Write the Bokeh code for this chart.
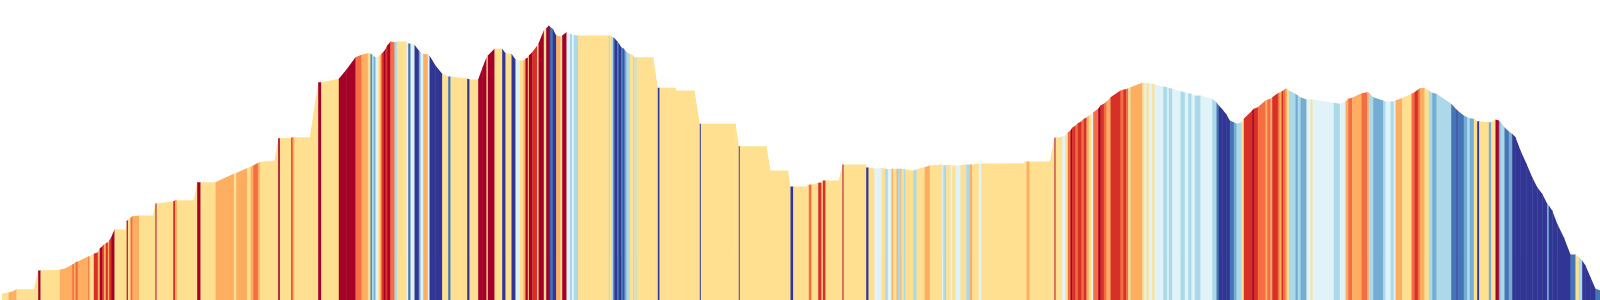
from bokeh.plotting import figure
from bokeh.embed import file_html
from bokeh.resources import INLINE
from bokeh.models import ColumnDataSource, Range1d

# Route profile: distance (km) and elevation (m) at each break point
dist_km = [
    # 0-20 km
    0.15, 0.8, 1.2, 1.6, 3.33, 3.77, 4.0, 5.93, 6.5, 7.17,
    7.33, 7.5, 7.73, 8.77, 8.9, 9.33, 9.73, 9.93, 10.17, 10.33,
    10.53, 10.73, 10.87, 11.07, 11.4, 12.5, 12.62, 12.73, 13.0, 13.2,
    13.87, 15.23, 15.5, 15.6, 17.27, 17.47, 17.67, 19.33, 19.67, 20.0,
    # 20-60 km
    21.5, 22.5, 23.33, 23.57, 24.67, 25.0, 25.27, 25.73, 25.93, 27.4,
    27.77, 27.93, 29.07, 29.2, 29.4, 30.93, 31.77, 32.07, 33.83, 34.6,
    35.5, 36.1, 36.73, 37.0, 37.13, 37.33, 37.5, 37.77, 37.93, 38.1,
    38.33, 38.5, 38.67, 38.93, 39.0, 39.4, 39.67, 40.6, 40.77, 41.0,
    41.4, 41.83, 42.0, 42.27, 42.73, 42.9, 43.5, 44.17, 44.33, 44.77,
    45.0, 46.67, 46.9, 47.77, 48.2, 48.6, 48.73, 49.4, 50.17, 50.5,
    51.1, 51.5, 51.93, 52.27, 52.5, 52.73, 52.83, 53.17, 53.67, 53.8,
    54.33, 54.57, 54.83, 55.0, 55.23, 55.57, 56.0, 56.17, 56.6, 57.0,
    57.1, 57.33, 57.75,
    # 60-80 km
    60.83, 60.93, 61.1, 61.27, 61.4, 61.67, 61.83, 62.07, 62.27, 62.4,
    62.6, 62.93, 63.27, 63.4, 63.53, 63.6, 65.27, 65.73, 65.9, 67.5,
    67.51, 69.4, 69.93, 70.03, 73.5, 73.83, 73.92, 76.6, 77.0, 78.73,
    79.0, 79.27,
    # 80-100 km
    80.67, 80.68, 80.83, 81.1, 81.77, 82.1, 82.23, 82.5, 83.83, 84.2,
    84.3, 86.55, 86.57, 86.8, 87.4, 88.1, 88.47, 88.73, 89.1, 89.27,
    89.6, 89.73, 90.0, 90.1, 90.33, 90.5, 91.27, 91.6, 92.0, 92.4,
    92.93, 94.17, 94.27, 94.57, 95.0, 95.17, 95.5, 96.0, 96.57, 96.93,
    97.17, 97.83, 98.07,
    # 100-120 km
    102.4, 102.41, 102.6, 102.9, 104.93, 105.4, 105.5, 106.17, 106.5, 106.73,
    107.0, 107.17, 107.5, 107.73, 108.1, 108.33, 108.6, 108.83, 109.05, 109.27,
    109.77, 110.0, 110.33, 110.6, 111.0, 112.0, 112.27, 112.57, 112.77, 113.0,
    114.17, 114.4, 114.6, 114.83, 115.17, 115.4, 116.27, 116.67, 116.83, 117.17,
    118.0, 118.43, 118.77, 119.1, 119.43,
    # 120-140 km
    120.0, 121.17, 121.6, 121.83, 122.2, 122.6, 122.93, 123.33, 123.6, 124.1,
    124.33, 125.17, 125.33, 125.73, 126.5, 126.67, 127.0, 127.17, 127.73, 127.9,
    128.1, 128.27, 128.5, 128.67, 128.83, 129.5, 129.73, 130.0, 130.6, 131.0,
    131.2, 133.33, 133.93, 134.5, 134.77, 135.17, 136.1, 136.67, 136.83, 137.27,
    138.27, 138.5, 139.0, 139.33, 139.5,
    # 140-160 km
    140.17, 141.1, 141.4, 141.73, 141.93, 142.4, 142.83, 143.17, 143.6, 145.07,
    145.6, 145.7, 146.33, 146.67, 146.93, 147.33, 147.67, 147.87, 148.83, 149.07,
    149.5, 149.83, 150.0, 150.4, 150.83, 151.17, 151.5, 152.0, 152.6, 153.17,
    153.67, 154.17, 154.67, 154.83, 155.17, 155.67, 156.33, 157.0, 157.5, 157.83,
    158.17, 158.5, 159.0, 159.5, 160.0,
]

elev_m = [
    # 0-20 km
    70, 80, 90, 113, 113, 300, 300, 307, 323, 360,
    367, 383, 390, 440, 443, 467, 483, 523, 540, 560,
    573, 583, 600, 633, 710, 710, 793, 807, 827, 843,
    850, 850, 970, 970, 993, 1003, 1003, 1003, 1183, 1183,
    # 20-60 km
    1183, 1230, 1267, 1275, 1325, 1335, 1350, 1375, 1385, 1400,
    1623, 1623, 1628, 1633, 1633, 1633, 2183, 2183, 2217, 2310,
    2433, 2457, 2473, 2470, 2460, 2443, 2433, 2440, 2450, 2467,
    2490, 2515, 2550, 2580, 2590, 2583, 2590, 2590, 2573, 2567,
    2557, 2500, 2483, 2467, 2460, 2450, 2350, 2267, 2260, 2240,
    2240, 2220, 2210, 2210, 2330, 2433, 2450, 2517, 2517, 2473,
    2467, 2410, 2400, 2400, 2417, 2430, 2450, 2483, 2550, 2570,
    2700, 2720, 2750, 2733, 2717, 2650, 2640, 2650, 2683, 2665,
    2660, 2655, 2650,
    # 60-80 km
    2650, 2650, 2643, 2633, 2623, 2593, 2573, 2533, 2523, 2507,
    2483, 2467, 2450, 2433, 2433, 2433, 2433, 2127, 2127, 2127,
    2100, 2100, 1767, 1767, 1767, 1543, 1543, 1543, 1300, 1300,
    1140, 1140,
    # 80-100 km
    1140, 1157, 1157, 1160, 1177, 1180, 1200, 1200, 1200, 1360,
    1360, 1360, 1330, 1330, 1320, 1325, 1320, 1313, 1317, 1317,
    1317, 1317, 1317, 1317, 1315, 1310, 1300, 1310, 1323, 1333,
    1350, 1360, 1350, 1355, 1355, 1350, 1350, 1355, 1360, 1360,
    1360, 1370, 1370,
    # 100-120 km
    1373, 1390, 1390, 1390, 1390, 1627, 1627, 1640, 1650, 1683,
    1700, 1727, 1750, 1773, 1793, 1817, 1830, 1850, 1860, 1883,
    1917, 1950, 1967, 1990, 2033, 2100, 2107, 2115, 2123, 2133,
    2177, 2177, 2177, 2170, 2170, 2160, 2140, 2133, 2127, 2117,
    2093, 2083, 2073, 2067, 2050,
    # 120-140 km
    2050, 2017, 1983, 1950, 1910, 1860, 1800, 1783, 1767, 1783,
    1817, 1900, 1917, 1933, 2000, 2007, 2017, 2033, 2073, 2080,
    2090, 2100, 2117, 2117, 2100, 2067, 2050, 2033, 2010, 2010,
    2010, 1977, 1967, 1993, 2017, 2027, 2073, 2083, 2080, 2033,
    2000, 1990, 1990, 1993, 2000,
    # 140-160 km
    2025, 2067, 2083, 2107, 2123, 2127, 2100, 2077, 2067, 1967,
    1910, 1900, 1850, 1833, 1823, 1817, 1793, 1793, 1783, 1783,
    1810, 1800, 1783, 1733, 1690, 1667, 1633, 1500, 1367, 1233,
    1133, 1067, 967, 950, 900, 767, 633, 460, 460, 433,
    400, 350, 233, 117, 100,
]

# Gradient class of each stretch between consecutive break points
# A steep climb ... Y flat-ish climb, P flat-ish descent ... D steep descent
grade_class = list(
    "YLLYYAYLLO" "LOLOYRLARL" "RLRAYYAYOL" "YYAYRLYYAY"
    "LLYLYLOLYY" "AYRLYYAYAA" "OLYUbMPYLR" "ARARObYPUP" "DMPLPDDYYU"
    "YDYAAYAYDY" "DPYLAYARYA" "YADUDLYAPM" "PbY"
    "bYbUDUDUDM" "bYbYbYYDYY" "YYDYYDYYYY" "DY"
    "YYOYRYRYYA" "YYDYPYbPLY" "LbLYbYbYYL" "YPbYPYPYbL" "YPY"
    "YYLYYAYPYO" "ARORORLYPO" "AROLROROYL" "YPYPYPbPbP" "bPbPb"
    "PbUDDDUMbY" "RAROLOLROL" "ROLYbMbMPY" "PbPLOLOLbM" "bPbPL"
    "YOROLYbMbU" "DUMbMYDYMY" "AMbUMDDDDD" "DDMDDDDUYb" "DDDU"
)

grade_colors = {
    "A": "#a50026", "R": "#d73027", "O": "#f46d43", "L": "#fdae61", "Y": "#fee090",
    "P": "#e0f3f8", "b": "#abd9e9", "M": "#74add1", "U": "#4575b4", "D": "#313695",
}

assert len(dist_km) == len(elev_m), (len(dist_km), len(elev_m))
assert len(grade_class) == len(dist_km) - 1, (len(grade_class), len(dist_km))

# small overlap (in km) into the next stretch so no hairline seams show
overlap = 0.04
last = len(grade_class) - 1
xs, ys, cols = [], [], []
for i, g in enumerate(grade_class):
    x0, x1 = dist_km[i], dist_km[i + 1]
    e0, e1 = elev_m[i], elev_m[i + 1]
    xe = x1 + (overlap if i < last else 0.0)
    xs.append([x0, x0, x1, xe, xe])
    ys.append([0, e0, e1, e1, 0])
    cols.append(grade_colors[g])

src = ColumnDataSource(dict(xs=xs, ys=ys, c=cols))

p = figure(width=1600, height=300, output_backend="svg", toolbar_location=None,
           x_range=Range1d(0, 160), y_range=Range1d(0, 3000),
           x_axis_location=None, y_axis_location=None,
           min_border=0, min_border_left=0, min_border_right=0,
           min_border_top=0, min_border_bottom=0)
p.grid.visible = False
p.outline_line_color = None
p.background_fill_color = "white"
p.border_fill_color = "white"

p.patches("xs", "ys", source=src, fill_color="c", line_color=None)

open("out.html", "w").write(file_html(p, INLINE))
